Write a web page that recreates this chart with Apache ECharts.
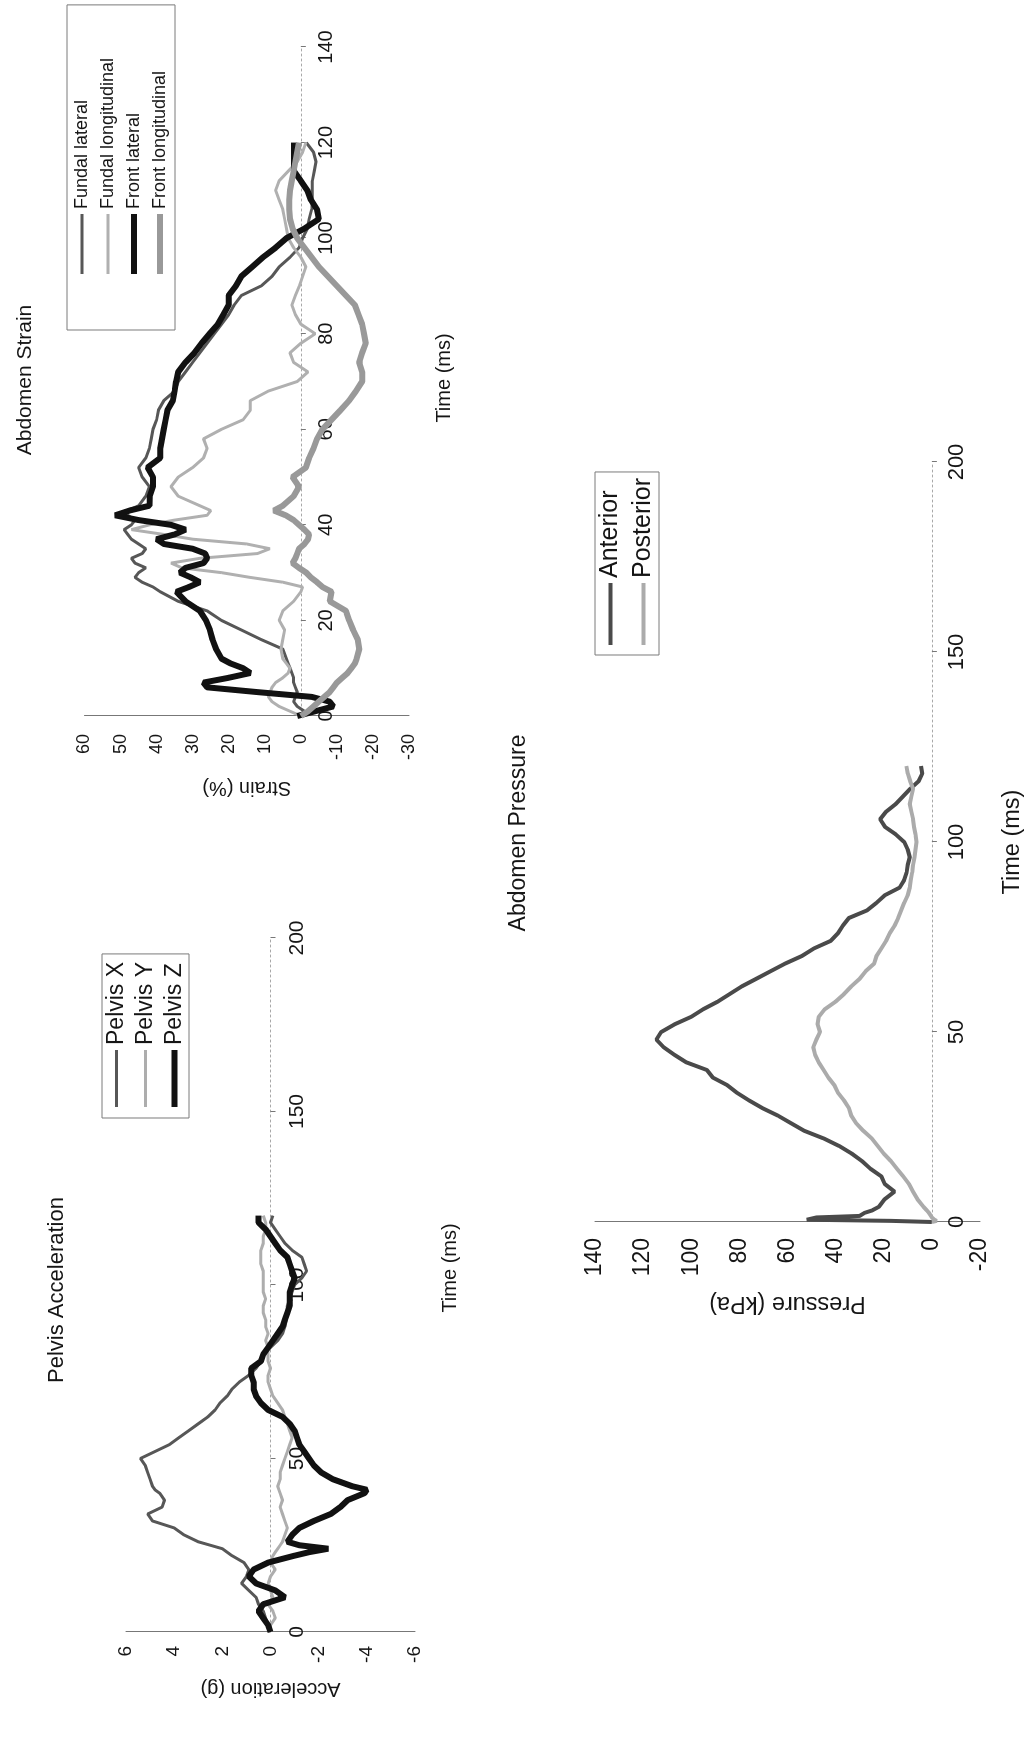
<!DOCTYPE html>
<html>
<head>
<meta charset="utf-8">
<script src="https://cdn.jsdelivr.net/npm/echarts@6/dist/echarts.min.js"></script>
<style>
html,body{margin:0;padding:0;width:1027px;height:1737px;overflow:hidden;background:#fff;}
#chart{position:absolute;left:0;top:0;width:1737px;height:1027px;transform-origin:0 0;transform:translate(0px,1737px) rotate(-90deg);background:#fff;}
</style>
</head>
<body>
<div id="chart"></div>
<script>
// ---------------- Pelvis Acceleration ----------------
const pelvisTime = [0,2,4,6,8,10,12,14,16,18,20,22,23,24,25,26,28,30,32,34,36,38,40,41,42,44,46,48,50,52,54,56,58,60,62,64,66,68,70,72,74,76,78,80,82,84,86,88,90,92,94,96,98,100,102,104,106,108,110,112,114,116,118,120];
const pelvisX = [0,0.1,0.2,0.3,0.5,0.6,0.9,1.2,1.0,0.9,1.1,1.6,1.8,2.0,2.5,3.0,3.6,4.0,4.9,5.1,4.5,4.4,4.6,4.8,4.9,5.0,5.1,5.2,5.4,4.8,4.2,3.8,3.4,3.0,2.6,2.3,2.1,1.8,1.6,1.3,0.9,0.6,0.4,0.3,0.0,-0.3,-0.5,-0.6,-0.65,-0.7,-0.7,-0.8,-0.9,-1.0,-1.3,-1.5,-1.4,-1.3,-0.9,-0.6,-0.4,-0.2,0.0,-0.1];
const pelvisY = [0,0,-0.2,-0.1,0.1,-0.1,0,0.1,0,-0.2,0,-0.1,-0.2,-0.3,-0.4,-0.5,-0.6,-0.7,-0.6,-0.5,-0.4,-0.5,-0.4,-0.35,-0.3,-0.4,-0.4,-0.5,-0.6,-0.7,-0.8,-0.9,-0.8,-0.7,-0.6,-0.5,-0.3,-0.1,0,0.1,0.1,0,0.1,0.1,0.1,0.2,0.1,0.2,0.2,0.3,0.3,0.2,0.3,0.3,0.3,0.3,0.4,0.4,0.4,0.3,0.3,0.2,0.2,0.3];
const pelvisZ = [0,0.1,0.3,0.5,0.3,-0.6,-0.2,0.6,0.9,0.7,0.1,-1.0,-1.6,-2.4,-1.2,-0.7,-0.9,-1.2,-1.8,-2.5,-2.9,-3.2,-3.9,-4.0,-3.4,-2.6,-2.1,-1.8,-1.6,-1.4,-1.2,-1.1,-1.0,-0.8,-0.5,0.1,0.4,0.6,0.7,0.7,0.8,0.8,0.4,0.3,0.1,-0.1,-0.3,-0.5,-0.6,-0.7,-0.8,-0.8,-0.8,-0.9,-1.0,-0.9,-0.8,-0.7,-0.4,-0.2,0,0.2,0.5,0.5];
const pelvisNames = ['Pelvis X','Pelvis Y','Pelvis Z'];

// ---------------- Abdomen Strain ----------------
const strainTime = [0,1,2,3,4,5,6,7,8,9,10,11,12,14,16,18,20,22,24,26,27,28,29,30,31,32,33,34,35,36,37,38,39,40,41,42,43,44,46,48,50,52,54,56,58,60,62,64,66,68,70,72,74,76,78,80,82,84,86,88,90,92,94,96,98,100,102,104,106,108,110,112,114,116,118,120];
const fundalLateral = [0,-1,1,2,1.5,1,1.5,2,2,2.5,3,3.5,4,5,11,16.5,22,26,34,39,41,44,46,45,43,46,47,44,43,45,47,48,49,47,46,48,48,45,43,42,44,45,43,42,41.5,41,40,39.5,38,35,34,32,30,28,26,24,22,20,18.5,16.5,11,8,6,3,0.5,-0.5,-1.8,-2.3,-3,-3.2,-3.2,-3.2,-3.7,-4.2,-3.5,-1.5];
const fundalLongitudinal = [0,3,6,8,9,8.5,8,7,5,3.5,3,4,5,5.5,5,4.5,6,5,2,0,-0.5,5,14,22,33,36,28,12,8.6,15,30,38,47,42,35,26,25,28,34,36,34,30,27,26,27,22,16,14,14,9,1,-2,2,3,0,-4,0,1.5,2.5,1.5,0.4,-0.5,-1.4,0,2,3.5,4,4.5,5,6,7,6,3.5,1,-0.5,-1.4];
const frontLateral = [1,-4,-9,-8,-3,12,26,27,20,14,16,19.5,22,23.5,24.5,25.2,26.3,28,32,34.5,31,28,30.5,33.5,32,27,26,26.5,30,38,40,35,32,36,45,51.5,47.5,42,41.9,41,41,42.5,39,39,38.5,38,37.5,37,35.5,35,34.6,34,32,29.5,27.5,25.3,23,21.5,20,20,18,16.5,13.5,10.5,7,4,-1,-5,-4.5,-2.8,-1.8,0,1.9,1.9,1.9,1.9];
const frontLongitudinal = [0,-2,-3.5,-5,-6.5,-8,-9,-10,-11.5,-13,-14,-15,-15.5,-16.2,-15.8,-14.5,-13.4,-12.5,-8,-8.5,-6,-4.5,-2.8,-1.5,0.5,2.3,1.5,1,0.5,-1,-2,-2.3,-1,0.5,2,4.2,7.5,5,2,0.5,2.3,-1.4,-2.3,-3.5,-4.5,-6,-8.5,-11,-13.4,-15.3,-17,-17,-16.2,-17,-18,-17.5,-17,-16,-15,-12.5,-10,-7.5,-5,-3,-1,1,2.3,3,3.2,3.2,3,2.5,2,1.5,1,0.5];
const strainNames = ['Fundal lateral','Fundal longitudinal','Front lateral','Front longitudinal'];

// ---------------- Abdomen Pressure ----------------
const pressureTime = [0,0.3,0.6,1.2,1.6,2.4,3,4,6,8,10,12,14,16,18,20,22,24,26,28,30,32,34,36,38,40,42,44,46,48,50,52,54,56,58,60,62,64,66,68,70,72,74,76,78,80,82,84,86,88,90,92,94,96,98,100,102,104,106,108,110,112,114,116,118,120];
const anterior = [0,17,52,48,30,28,25,22,19.6,15.5,19.6,21,25.5,29,33.3,38.5,45,53,58.5,64,70.5,76,81,85,91,93.5,102,107,111.5,114.5,112.5,107,100,95,89,84,79,73,67,61,54,49,42,39,37,34.5,27,23,19.5,13.4,11.5,10.5,10,9.2,10,11.5,15,19.5,21.5,19,15,12,9,5.5,4,4.5];
const posterior = [0,-2,-1,0,0.5,1.2,2,3.5,6,7.8,9.5,11.9,14.5,17,20,22.5,25,28.5,31.5,33.5,34.5,36.5,39,40.5,43,45,47,48.5,49.3,48,46.5,47.5,47,44.5,40,36.5,33.5,30,27.5,24,23,21,19,17.5,15.5,14,12.8,11.5,10,9.2,8.8,8.2,7.8,7.2,6.8,6.4,6.8,7.4,7.8,8.5,9.2,8.5,7.8,9,10,10.6];
const pressureNames = ['Anterior','Posterior'];

// ---------------- helpers ----------------
const FONT = "'Liberation Sans', Arial, Helvetica, sans-serif";
const TXT = '#151515';
const pairs = (ts, vs) => ts.map((t, i) => [t, vs[i]]);

const grids = [
  {left: 105, top: 126, width: 694, height: 289, outerBoundsMode: 'none', containLabel: false},
  {left: 1021, top: 84.5, width: 669, height: 324.5, outerBoundsMode: 'none', containLabel: false},
  {left: 515, top: 595, width: 760, height: 385, outerBoundsMode: 'none', containLabel: false}
];
const valueRanges = [[-6, 6, 2], [-30, 60, 10], [-20, 140, 20]];
// time axis is drawn on the value = 0 line: shift it up from the grid bottom
const zeroOffset = i => -grids[i].height * (0 - valueRanges[i][0]) / (valueRanges[i][1] - valueRanges[i][0]);

function timeAxis(gridIndex, max, interval, fs, margin, nameGap, nameFs, namePad) {
  return {
    gridIndex, type: 'value', min: 0, max, interval,
    offset: zeroOffset(gridIndex),
    axisLine: {show: true, onZero: false, lineStyle: {color: '#a8a8a8', width: 1, type: [2, 3]}},
    axisTick: {show: true, length: 5, lineStyle: {color: '#777'}},
    axisLabel: {fontSize: fs, color: TXT, margin, fontFamily: FONT},
    splitLine: {show: false},
    name: 'Time (ms)', nameLocation: 'middle', nameGap,
    nameTextStyle: {fontSize: nameFs, color: TXT, fontFamily: FONT, padding: namePad || 0}
  };
}
function valueAxis(gridIndex, name, fs, margin, nameGap, nameFs) {
  const r = valueRanges[gridIndex];
  return {
    gridIndex, type: 'value', min: r[0], max: r[1], interval: r[2],
    axisLine: {show: true, onZero: false, lineStyle: {color: '#777', width: 1}},
    axisTick: {show: false},
    axisLabel: {fontSize: fs, color: TXT, margin, fontFamily: FONT},
    splitLine: {show: false},
    name, nameLocation: 'middle', nameRotate: 90, nameGap,
    nameTextStyle: {fontSize: nameFs, color: TXT, fontFamily: FONT}
  };
}
function lineSeries(name, axisIndex, ts, vs, color, width) {
  return {
    name, type: 'line', xAxisIndex: axisIndex, yAxisIndex: axisIndex,
    data: pairs(ts, vs), symbol: 'none', showSymbol: false,
    lineStyle: {color, width}, itemStyle: {color}, animation: false
  };
}
function legendItems(names, widths) {
  return names.map((n, i) => ({name: n, lineStyle: {width: widths[i]}, itemStyle: {opacity: 0}}));
}
function legendBox(left, top, names, widths, itemWidth, fs, gap, padding) {
  return {
    left, top, orient: 'vertical', itemWidth, itemHeight: 10, itemGap: gap, padding,
    borderColor: '#7a7a7a', borderWidth: 1, selectedMode: false,
    textStyle: {fontSize: fs, lineHeight: fs, color: TXT, fontFamily: FONT},
    data: legendItems(names, widths)
  };
}

const chart = echarts.init(document.getElementById('chart'), null, {renderer: 'canvas'});
chart.setOption({
  animation: false,
  backgroundColor: '#fff',
  graphic: [
    {type: 'text', x: 447, y: 57, style: {text: 'Pelvis Acceleration', fontSize: 22, fontFamily: FONT, fill: TXT, align: 'center', verticalAlign: 'middle'}},
    {type: 'text', x: 1357, y: 25, style: {text: 'Abdomen Strain', fontSize: 21, fontFamily: FONT, fill: TXT, align: 'center', verticalAlign: 'middle'}},
    {type: 'text', x: 904, y: 519, style: {text: 'Abdomen Pressure', fontSize: 23, fontFamily: FONT, fill: TXT, align: 'center', verticalAlign: 'middle'}}
  ],
  grid: grids,
  xAxis: [
    timeAxis(0, 200, 50, 21, 16, 170, 20, [0, 0, 0, 34]),
    timeAxis(1, 140, 20, 20, 16, 134, 20, [0, 0, 0, 7]),
    timeAxis(2, 200, 50, 22, 14, 69, 23.5, 0)
  ],
  yAxis: [
    valueAxis(0, 'Acceleration (g)', 19, 14, 47, 20),
    valueAxis(1, 'Strain (%)', 18, 18, 62, 20),
    valueAxis(2, 'Pressure (kPa)', 23, 16, 69, 23.5)
  ],
  legend: [
    legendBox(619, 102, pelvisNames, [3, 3, 6], 57, 23, 6, [3, 8, 3, 8]),
    legendBox(1407, 67, strainNames, [3, 3, 6, 6], 60, 18, 8, [6, 53, 6, 53]),
    legendBox(1082, 595, pressureNames, [4, 4], 62, 25, 8, [3, 6, 3, 8])
  ],
  series: [
    lineSeries('Pelvis X', 0, pelvisTime, pelvisX, '#575757', 3),
    lineSeries('Pelvis Y', 0, pelvisTime, pelvisY, '#adadad', 3),
    lineSeries('Pelvis Z', 0, pelvisTime, pelvisZ, '#111111', 6),
    lineSeries('Fundal lateral', 1, strainTime, fundalLateral, '#575757', 3),
    lineSeries('Fundal longitudinal', 1, strainTime, fundalLongitudinal, '#b0b0b0', 3),
    lineSeries('Front lateral', 1, strainTime, frontLateral, '#111111', 6),
    lineSeries('Front longitudinal', 1, strainTime, frontLongitudinal, '#999999', 6),
    lineSeries('Anterior', 2, pressureTime, anterior, '#4a4a4a', 4),
    lineSeries('Posterior', 2, pressureTime, posterior, '#ababab', 4)
  ]
});
</script>
</body>
</html>
